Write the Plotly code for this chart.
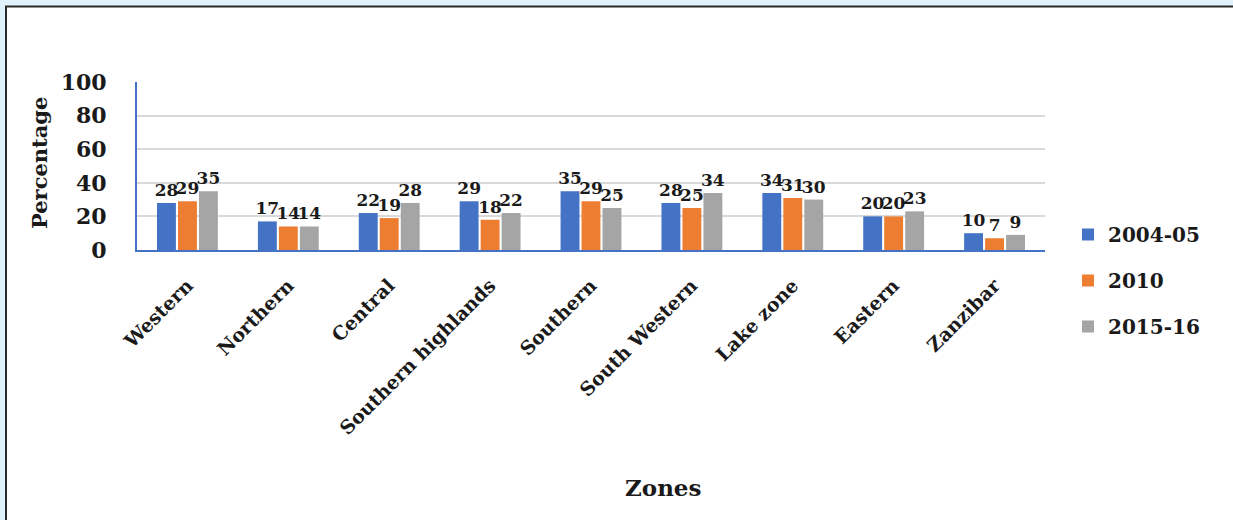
import plotly.graph_objects as go

# Zones and the percentage reported for each survey round
zones = ["Western", "Northern", "Central", "Southern highlands", "Southern",
         "South Western", "Lake zone", "Eastern", "Zanzibar"]
rounds = ["2004-05", "2010", "2015-16"]
pct_2004_05 = [28, 17, 22, 29, 35, 28, 34, 20, 10]
pct_2010 = [29, 14, 19, 18, 29, 25, 31, 20, 7]
pct_2015_16 = [35, 14, 28, 22, 25, 34, 30, 23, 9]
y_ticks = [0, 20, 40, 60, 80, 100]

colors = ["#4472C4", "#ED7D31", "#A5A5A5"]
FONT = "DejaVu Serif"

# page geometry (pixels)
W, H = 1233, 520
L, R, T, B = 137, 188, 82, 270
PW, PH = W - L - R, H - T - B


def px(xp):
    return (xp - L) / PW


def py(yp):
    return (H - B - yp) / PH


fig = go.Figure()
for name, vals, col in zip(rounds, [pct_2004_05, pct_2010, pct_2015_16], colors):
    fig.add_trace(go.Bar(
        x=zones, y=vals, name=name, legendgroup=name,
        marker=dict(color=col, line=dict(width=0)),
        text=vals, textposition="outside", constraintext="none",
        cliponaxis=False,
        textfont=dict(family=FONT, size=17, color="#1a1a1a", weight="bold"),
    ))

fig.update_layout(
    width=W, height=H,
    margin=dict(l=L, r=R, t=T, b=B, pad=0),
    paper_bgcolor="white", plot_bgcolor="rgba(0,0,0,0)",
    barmode="group", bargap=0.376, bargroupgap=0.1,
    font=dict(family=FONT, color="#1a1a1a"),
    showlegend=True,
    legend=dict(
        xref="container", yref="container",
        x=1068 / W, y=1 - 215 / H, xanchor="left", yanchor="top",
        font=dict(family=FONT, size=20, color="#1a1a1a", weight="bold"),
        tracegroupgap=17, bgcolor="rgba(0,0,0,0)",
    ),
    xaxis=dict(
        tickangle=-45, showgrid=False, showline=True,
        linecolor="#4472C4", linewidth=2, ticks="",
        ticklabelstandoff=15,
        tickfont=dict(family=FONT, size=19, color="#1a1a1a", weight="bold"),
    ),
    yaxis=dict(
        range=[0, 100], tickvals=y_ticks, showgrid=True,
        gridcolor="#D9D9D9", gridwidth=2, showline=True,
        linecolor="#4472C4", linewidth=2, zeroline=False, ticks="",
        ticklabelstandoff=24,
        tickfont=dict(family=FONT, size=22, color="#1a1a1a", weight="bold"),
    ),
)

# axis titles
fig.add_annotation(text="Percentage", xref="paper", yref="paper",
                   x=px(39), y=py(163), xanchor="center", yanchor="middle",
                   textangle=-90, showarrow=False,
                   font=dict(family=FONT, size=21, color="#1a1a1a", weight="bold"))
fig.add_annotation(text="Zones", xref="paper", yref="paper",
                   x=px(663), y=py(487), xanchor="center", yanchor="middle",
                   showarrow=False,
                   font=dict(family=FONT, size=23, color="#1a1a1a", weight="bold"))

# page frame: pale blue margin with a dark rule along the top and left
fig.add_shape(type="rect", xref="paper", yref="paper", layer="below",
              x0=px(0), x1=px(W), y0=py(0), y1=py(6),
              fillcolor="#DFF1FB", line=dict(width=0))
fig.add_shape(type="rect", xref="paper", yref="paper", layer="below",
              x0=px(0), x1=px(5), y0=py(0), y1=py(H),
              fillcolor="#DFF1FB", line=dict(width=0))
fig.add_shape(type="line", xref="paper", yref="paper",
              x0=px(5), x1=px(W + 5), y0=py(6.5), y1=py(6.5),
              line=dict(color="#2b2b2b", width=2))
fig.add_shape(type="line", xref="paper", yref="paper",
              x0=px(6), x1=px(6), y0=py(6), y1=py(H + 5),
              line=dict(color="#2b2b2b", width=2))

fig.write_html("out.html", config={"displayModeBar": False})
